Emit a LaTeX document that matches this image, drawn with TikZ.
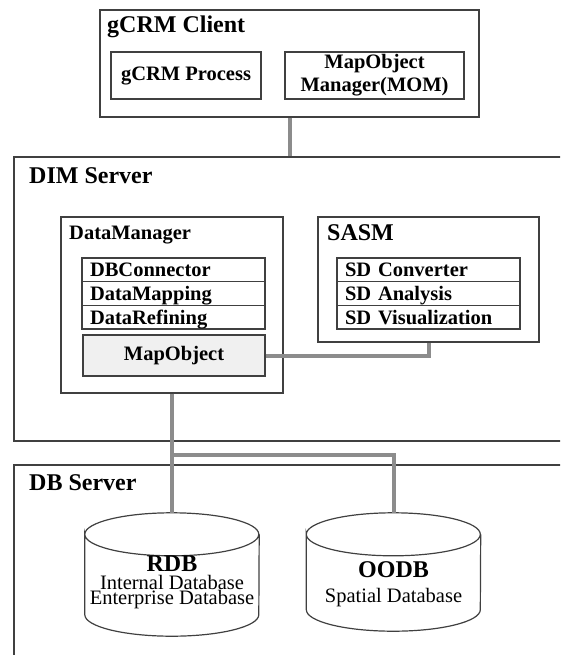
\documentclass[tikz,border=0pt]{standalone}
\usepackage{fontspec}
\setmainfont{Liberation Serif}
\definecolor{edge}{HTML}{404040}
\definecolor{wire}{HTML}{8C8C8C}
\definecolor{objfill}{HTML}{F0F0F0}

\begin{document}
\begin{tikzpicture}
        [x=1pt, y=-1pt,
        box/.style={draw=edge, line width=1.2pt, inner sep=0},
        title/.style={anchor=base west, inner sep=0, font=\fontsize{24}{28}\selectfont\bfseries},
        sub/.style={font=\fontsize{20.5}{24.6}\selectfont\bfseries},
        row/.style={draw=edge, line width=1.2pt, text width=167pt, inner xsep=8pt, inner ysep=0, minimum height=23.67pt, text height=18pt, text depth=4pt, align=left, font=\fontsize{20.5}{24.6}\selectfont\bfseries},
        dbshape/.style={inner sep=0, minimum width=174pt},
        dbtext/.style={inner sep=0, align=center, font=\fontsize{20.5}{24.6}\selectfont},
        cyl/.style={draw=edge, line width=1.2pt},
        link/.style={draw=wire, line width=4pt}]

        % page frame
        \clip (0,0) rectangle (560,655);

        \node[box, minimum width=379pt, minimum height=107pt] (client) at (289.5,63.5) {};
        \node[title] (clienttitle) at (107,33) {gCRM Client};
        \node[box, sub, minimum width=150pt, minimum height=47pt] (proc) at (186,75.5) {gCRM Process};
        \node[box, sub, align=center, minimum width=179pt, minimum height=47pt] (mom) at (374.5,75.5) {MapObject\\[-1.6pt]Manager(MOM)};

        \node[box, minimum width=586pt, minimum height=284pt] (dim) at (307,299) {};
        \node[title] (dimtitle) at (29,183) {DIM Server};

        \node[box, minimum width=222pt, minimum height=176pt] (dm) at (172,305) {};
        \node[title, sub] (dmtitle) at (69,239) {DataManager};
        \node[row] (conn) at (173.5,269.8) {DBConnector};
        \node[row] (mapping) at (173.5,293.5) {DataMapping};
        \node[row] (refine) at (173.5,317.2) {DataRefining};
        \node[box, sub, fill=objfill, minimum width=182pt, minimum height=41pt] (mapobj) at (174,355.5) {MapObject};

        \node[box, minimum width=221pt, minimum height=125pt] (sasm) at (428.5,279.5) {};
        \node[title] (sasmtitle) at (327,240) {SASM};
        \node[row] (conv) at (428.5,269.8) {SD Converter};
        \node[row] (anal) at (428.5,293.5) {SD Analysis};
        \node[row] (vis) at (428.5,317.2) {SD Visualization};

        \node[box, minimum width=586pt, minimum height=235pt] (db) at (307,582.5) {};
        \node[title] (dbtitle) at (29,490) {DB Server};
        \node[dbshape, minimum height=123pt] (rdb) at (172,574.5) {};
        \node[dbshape, minimum height=118pt] (oodb) at (393.5,572) {};

        \foreach \d in {rdb, oodb}
          \draw[cyl] ([yshift=-21.5pt]\d.north west) arc[start angle=180, end angle=-180, x radius=87pt, y radius=21.5pt]
            -- ([yshift=21.5pt]\d.south west) arc[start angle=180, end angle=360, x radius=87pt, y radius=21.5pt]
            -- ([yshift=-21.5pt]\d.north east);

        \node[dbtext] (rdbtext) at (172,582) {{\bfseries\fontsize{24}{28}\selectfont RDB}\\[-6.6pt]Internal Database\\[-9.6pt]Enterprise Database};
        \node[dbtext] (oodbtext) at (393.5,584) {{\bfseries\fontsize{24}{28}\selectfont OODB}\\[0.4pt]Spatial Database};

        \coordinate (split) at (172,455);
        \draw[link] (client.south) -- (dim.north -| client.south);
        \draw[link] (mapobj.east) -| (sasm.south);
        \draw[link] (dm.south) -- (rdb.north);
        \draw[link] (split) -| (oodb.north);
      \end{tikzpicture}
\end{document}
